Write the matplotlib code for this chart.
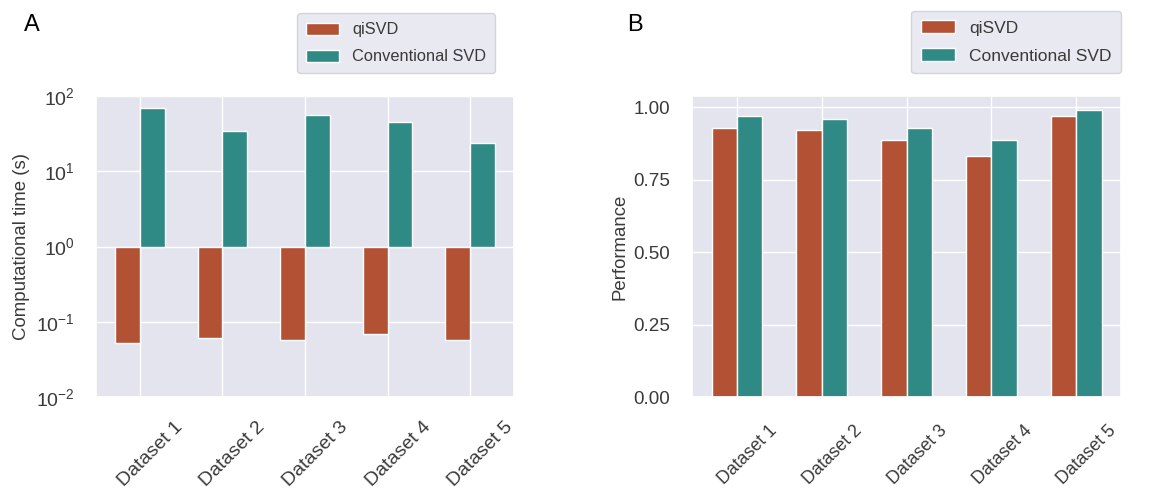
import numpy as np
import matplotlib
matplotlib.use("Agg")
import matplotlib.pyplot as plt
import matplotlib.transforms as mtransforms
import seaborn as sns

datasets = ["Dataset 1", "Dataset 2", "Dataset 3", "Dataset 4", "Dataset 5"]
series_names = ["qiSVD", "Conventional SVD"]
time_qisvd = [0.052, 0.060, 0.058, 0.068, 0.057]
time_conv = [69.0, 33.9, 56.4, 45.1, 23.5]
perf_qisvd = [0.928, 0.922, 0.885, 0.830, 0.969]
perf_conv = [0.968, 0.960, 0.928, 0.885, 0.989]

sns.set_theme(style="darkgrid", rc={"axes.facecolor": "#E4E4EE"})
plt.rcParams["font.family"] = ["Liberation Sans", "DejaVu Sans"]

RED = "#B35134"
TEAL = "#2F8A86"
TXT = "#3A3A3A"
W = 0.3

fig = plt.figure(figsize=(11.65, 4.91), dpi=100)
H = 491.0
Wd = 1165.0
bottom = 1 - 397 / H
height = (397 - 96) / H
axA = fig.add_axes([96 / Wd, bottom, (514 - 96) / Wd, height])
axB = fig.add_axes([692 / Wd, bottom, (1121 - 692) / Wd, height])

x = np.arange(len(datasets))
ypad = plt.rcParams["ytick.major.pad"] + 6


def shift_xlabels(ax, dx_px, dy_px):
    off = mtransforms.ScaledTranslation(dx_px / 100.0, dy_px / 100.0, fig.dpi_scale_trans)
    for lab in ax.get_xticklabels():
        lab.set_transform(lab.get_transform() + off)


leg_kw = dict(loc="lower right", borderaxespad=0, labelspacing=0.73,
              borderpad=0.54, handleheight=0.75)

# Panel A
axA.set_yscale("log")
axA.bar(x - W / 2, np.array(time_qisvd) - 1, W, bottom=1, color=RED, label=series_names[0])
axA.bar(x + W / 2, np.array(time_conv) - 1, W, bottom=1, color=TEAL, label=series_names[1])
axA.set_ylim(1e-2, 1e2)
axA.set_xticks(x)
axA.set_xticklabels(datasets, rotation=45)
axA.tick_params(axis="y", labelsize=14, pad=ypad, labelcolor=TXT)
axA.tick_params(axis="x", labelsize=14, labelcolor=TXT)
axA.set_ylabel("Computational time (s)", fontsize=13.4, color=TXT)
axA.legend(bbox_to_anchor=(0.9545, 1.076), fontsize=11.8, **leg_kw)
shift_xlabels(axA, 10.5, -8)

# Panel B
axB.bar(x - W / 2, perf_qisvd, W, color=RED, label=series_names[0])
axB.bar(x + W / 2, perf_conv, W, color=TEAL, label=series_names[1])
axB.set_yticks([0, 0.25, 0.5, 0.75, 1.0])
axB.set_yticklabels(["0.00", "0.25", "0.50", "0.75", "1.00"])
axB.set_xticks(x)
axB.set_xticklabels(datasets, rotation=45)
axB.tick_params(axis="y", labelsize=13.6, pad=ypad, labelcolor=TXT)
axB.tick_params(axis="x", labelsize=12.8, labelcolor=TXT)
axB.set_ylabel("Performance", fontsize=13.4, color=TXT)
axB.legend(bbox_to_anchor=(1.0, 1.076), fontsize=12.5, **leg_kw)
shift_xlabels(axB, 11, -12)

for ax in (axA, axB):
    for t in ax.get_legend().get_texts():
        t.set_color(TXT)

fig.text(24 / Wd, 1 - 31 / H, "A", fontsize=17, color="black", ha="left", va="baseline")
fig.text(627 / Wd, 1 - 31 / H, "B", fontsize=17, color="black", ha="left", va="baseline")

fig.savefig("out.png", dpi=100)
